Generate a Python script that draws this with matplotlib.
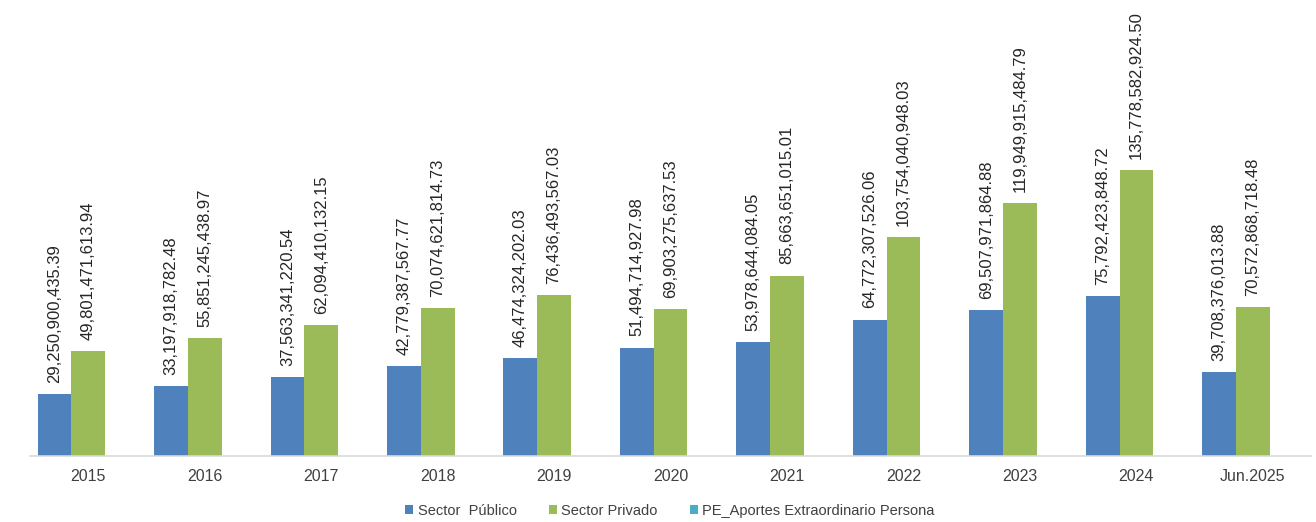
import matplotlib
matplotlib.use("Agg")
import matplotlib.pyplot as plt
from matplotlib.patches import Patch
import numpy as np

plt.rcParams["font.family"] = ["Liberation Sans", "DejaVu Sans"]

categories = ["2015", "2016", "2017", "2018", "2019", "2020",
              "2021", "2022", "2023", "2024", "Jun.2025"]
sector_publico = [29250900435.39, 33197918782.48, 37563341220.54, 42779387567.77,
                  46474324202.03, 51494714927.98, 53978644084.05, 64772307526.06,
                  69507971864.88, 75792423848.72, 39708376013.88]
sector_privado = [49801471613.94, 55851245438.97, 62094410132.15, 70074621814.73,
                  76436493567.03, 69903275637.53, 85663651015.01, 103754040948.03,
                  119949915484.79, 135778582924.50, 70572868718.48]
pe_aportes = [0] * len(categories)
series_names = ["Sector  Público", "Sector Privado", "PE_Aportes Extraordinario Persona"]
colors = ["#4f81bd", "#9bbb59", "#4bacc6"]

fig = plt.figure(figsize=(13.16, 5.22), dpi=100)
ax = fig.add_axes([0.0228, 0.1264, 0.9735, 0.8736])

x = np.arange(len(categories))
w = 0.29
all_series = [sector_publico, sector_privado, pe_aportes]
for i, (vals, col) in enumerate(zip(all_series, colors)):
    pos = x + (i - 1) * w
    ax.bar(pos, vals, width=w, color=col, linewidth=0)
    if i < 2:
        # value labels, rotated, above each bar
        for xp, v in zip(pos, vals):
            ax.annotate(f"{v:,.2f}", (xp, v), xytext=(0, 8), textcoords="offset points",
                        rotation=90, ha="center", va="bottom", fontsize=12,
                        color="#262626")

ax.set_xlim(-0.5, len(categories) - 0.5)
ax.set_ylim(0, 216.5e9)
ax.set_xticks(x)
ax.set_xticklabels(categories, fontsize=11.5, color="#404040")
ax.tick_params(axis="x", length=0, pad=9)
ax.set_yticks([])
for s in ["top", "right", "left"]:
    ax.spines[s].set_visible(False)
ax.spines["bottom"].set_color("#d9d9d9")
ax.spines["bottom"].set_linewidth(1.2)
ax.patch.set_alpha(0)

handles = [Patch(facecolor=c, edgecolor="none", label=n) for c, n in zip(colors, series_names)]
fig.legend(handles=handles, loc="center", bbox_to_anchor=(0.509, 0.021), ncol=3,
           frameon=False, fontsize=10.5, handlelength=0.55, handleheight=0.55,
           handletextpad=0.3, columnspacing=2.2, labelcolor="#404040")

fig.savefig("out.png", dpi=100)
